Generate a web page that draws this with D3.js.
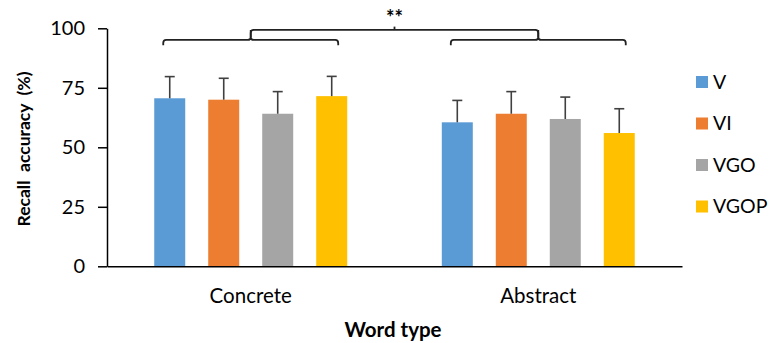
<!DOCTYPE html>
<html>
<head>
<meta charset="utf-8">
<script src="https://cdn.jsdelivr.net/npm/d3@7"></script>
<style>
  html, body { margin: 0; padding: 0; background: #fff; }
  svg { display: block; font-family: Lato, "Open Sans", sans-serif; }
  text { white-space: pre; }
</style>
</head>
<body>
<svg id="chart" width="771" height="343"></svg>
<script>
// ---- data ----
const categories = ["Concrete", "Abstract"];
const series = ["V", "VI", "VGO", "VGOP"];
const colors = ["#5B9BD5", "#ED7D31", "#A5A5A5", "#FFC000"];
const concreteMeans = [70.6, 70.0, 64.1, 71.5];
const abstractMeans = [60.5, 64.1, 61.9, 56.0];
const concreteErrors = [9.1, 9.0, 9.3, 8.3];
const abstractErrors = [9.2, 9.3, 9.2, 10.2];
const yTicks = [0, 25, 50, 75, 100];
const significance = "**";

const means = [concreteMeans, abstractMeans];
const errors = [concreteErrors, abstractErrors];

// ---- layout ----
const svg = d3.select("#chart");
const plotLeft = 107, plotRight = 682, plotTop = 28.3, plotBottom = 266.3;

const y = d3.scaleLinear().domain([0, 100]).range([plotBottom, plotTop]);
const x0 = d3.scaleBand().domain(categories).range([plotLeft, plotRight])
  .paddingInner(0.169).paddingOuter(0.0843);
const x1 = d3.scaleBand().domain(series).range([0, x0.bandwidth()])
  .paddingInner(0.426).paddingOuter(0.426);
const color = d3.scaleOrdinal().domain(series).range(colors);

// rows
const rows = [];
categories.forEach((c, ci) => series.forEach((s, si) => {
  rows.push({ cat: c, ser: s, mean: means[ci][si], err: errors[ci][si] });
}));

// bars
svg.append("g").selectAll("rect").data(rows).join("rect")
  .attr("x", d => x0(d.cat) + x1(d.ser))
  .attr("y", d => y(d.mean))
  .attr("width", x1.bandwidth())
  .attr("height", d => y(0) - y(d.mean))
  .attr("fill", d => color(d.ser));

// error bars (upper only)
const eg = svg.append("g").attr("stroke", "#404040").attr("stroke-width", 1.6);
rows.forEach(d => {
  const cx = x0(d.cat) + x1(d.ser) + x1.bandwidth() / 2;
  eg.append("line").attr("x1", cx).attr("x2", cx)
    .attr("y1", y(d.mean)).attr("y2", y(d.mean + d.err));
  eg.append("line").attr("x1", cx - 5).attr("x2", cx + 5)
    .attr("y1", y(d.mean + d.err)).attr("y2", y(d.mean + d.err));
});

// y axis
const yAxis = svg.append("g").attr("transform", `translate(${plotLeft},0)`)
  .call(d3.axisLeft(y).tickValues(yTicks).tickSize(9).tickPadding(13).tickSizeOuter(0));
yAxis.select(".domain").attr("stroke", "#000").attr("stroke-width", 1.5);
yAxis.selectAll(".tick line").attr("stroke", "#000").attr("stroke-width", 1.5);
yAxis.selectAll(".tick text").attr("font-size", 20).attr("fill", "#000")
  .attr("font-family", "Lato, sans-serif");

// x axis
const xAxis = svg.append("g").attr("transform", `translate(0,${plotBottom})`)
  .call(d3.axisBottom(x0).tickSize(0).tickPadding(22).tickSizeOuter(0));
xAxis.select(".domain").attr("stroke", "#000").attr("stroke-width", 1.5);
xAxis.selectAll(".tick text").attr("font-size", 20.5).attr("fill", "#000")
  .attr("font-family", "Lato, sans-serif");

// axis titles
svg.append("text").attr("x", 393).attr("y", 336.5).attr("text-anchor", "middle")
  .attr("font-weight", "bold").attr("font-size", 20.5).text("Word type");
svg.append("text").attr("transform", "translate(29.5,149) rotate(-90)")
  .attr("text-anchor", "middle").attr("font-weight", "bold").attr("font-size", 17.5)
  .text("Recall  accuracy  (%)");

// significance brackets
const bracketLevel = 95.1, topLevel = 99.3, drop = 2.2, tickTop = 100.7;
const bg = svg.append("g").attr("fill", "none").attr("stroke", "#222").attr("stroke-width", 1.8);
const centers = [];
categories.forEach(c => {
  const xa = x0(c) + x1(series[0]) + 9;
  const xb = x0(c) + x1(series[series.length - 1]) + x1.bandwidth() - 9;
  const xc = x0(c) + x0.bandwidth() / 2;
  centers.push(xc);
  const yb = y(bracketLevel), yd = y(bracketLevel - drop), yt = y(topLevel);
  const r = 3;
  bg.append("path").attr("d",
    `M${xa},${yd} L${xa},${yb + r} Q${xa},${yb} ${xa + r},${yb} L${xc - r},${yb} Q${xc},${yb} ${xc},${yb - r} L${xc},${yt}` +
    ` M${xc},${yb - r} Q${xc},${yb} ${xc + r},${yb} L${xb - r},${yb} Q${xb},${yb} ${xb},${yb + r} L${xb},${yd}`);
});
const mid = (centers[0] + centers[1]) / 2;
const r2 = 3;
bg.append("path").attr("d",
  `M${centers[0]},${y(bracketLevel) - r2} L${centers[0]},${y(topLevel) + r2} Q${centers[0]},${y(topLevel)} ${centers[0] + r2},${y(topLevel)} L${centers[1] - r2},${y(topLevel)} Q${centers[1]},${y(topLevel)} ${centers[1]},${y(topLevel) + r2} L${centers[1]},${y(bracketLevel) - r2}`);
bg.append("line").attr("x1", mid).attr("x2", mid).attr("y1", y(topLevel)).attr("y2", y(tickTop));
svg.append("text").attr("x", mid).attr("y", 25).attr("text-anchor", "middle")
  .attr("font-size", 20).attr("font-weight", "bold").attr("fill", "#000").text(significance);

// legend
const lg = svg.append("g").attr("transform", "translate(696,76)");
series.forEach((s, i) => {
  const g = lg.append("g").attr("transform", `translate(0,${i * 41.5})`);
  g.append("rect").attr("width", 12).attr("height", 12).attr("fill", color(s));
  g.append("text").attr("x", 17).attr("y", 12.5).attr("font-size", 19.5)
    .attr("fill", "#000").text(s);
});
</script>
</body>
</html>
